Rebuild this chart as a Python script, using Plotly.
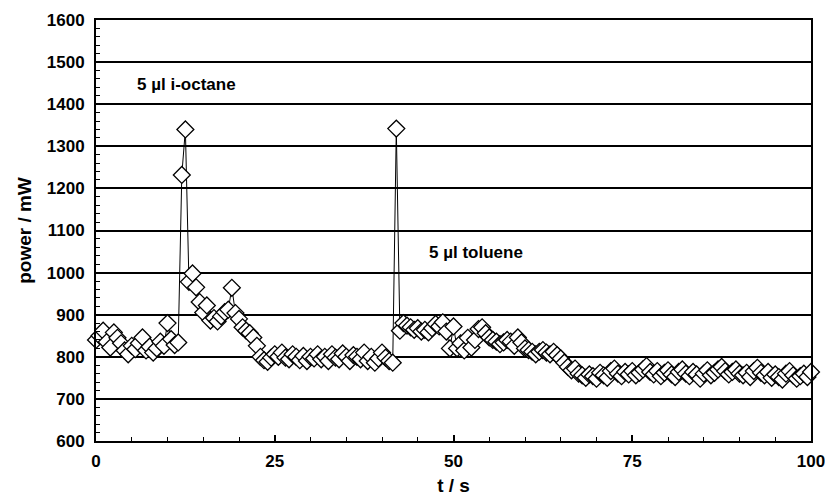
import plotly.graph_objects as go

# sample times (s)
time_s = [
    0, 0.5, 1, 1.5, 2, 2.5, 3, 3.5, 4, 4.5, 5, 5.5, 6, 6.5, 7, 7.5, 8, 8.5, 9, 9.5,
    10, 10.5, 11, 11.5, 12, 12.5, 13, 13.5, 14, 14.5, 15, 15.5, 16, 16.5, 17, 17.5, 18, 18.5, 19, 19.5,
    20, 20.5, 21, 21.5, 22, 22.5, 23, 23.5, 24, 24.5, 25, 25.5, 26, 26.5, 27, 27.5, 28, 28.5, 29, 29.5,
    30, 30.5, 31, 31.5, 32, 32.5, 33, 33.5, 34, 34.5, 35, 35.5, 36, 36.5, 37, 37.5, 38, 38.5, 39, 39.5,
    40, 40.5, 41, 41.5, 42, 42.5, 43, 43.5, 44, 44.5, 45, 45.5, 46, 46.5, 47, 47.5, 48, 48.5, 49, 49.5,
    50, 50.5, 51, 51.5, 52, 52.5, 53, 53.5, 54, 54.5, 55, 55.5, 56, 56.5, 57, 57.5, 58, 58.5, 59, 59.5,
    60, 60.5, 61, 61.5, 62, 62.5, 63, 63.5, 64, 64.5, 65, 65.5, 66, 66.5, 67, 67.5, 68, 68.5, 69, 69.5,
    70, 70.5, 71, 71.5, 72, 72.5, 73, 73.5, 74, 74.5, 75, 75.5, 76, 76.5, 77, 77.5, 78, 78.5, 79, 79.5,
    80, 80.5, 81, 81.5, 82, 82.5, 83, 83.5, 84, 84.5, 85, 85.5, 86, 86.5, 87, 87.5, 88, 88.5, 89, 89.5,
    90, 90.5, 91, 91.5, 92, 92.5, 93, 93.5, 94, 94.5, 95, 95.5, 96, 96.5, 97, 97.5, 98, 98.5, 99, 99.5,
    100,
]

# power (mW)
power_mw = [
    # 0 - 11.5
    840, 850, 862, 835, 822, 858, 845, 832, 815, 806, 826, 818, 832, 846, 815, 824, 810, 820, 836, 826,
    880, 842, 828, 834,
    # 12 - 25  (i-octane injection)
    1232, 1340, 978, 998, 965, 930, 905, 922, 886, 892, 884, 896, 906, 912, 964, 904, 890, 870, 862, 856,
    846, 826, 800, 792, 788, 798, 806,
    # 25.5 - 41.5
    800, 810, 798, 794, 806, 800, 792, 802, 790, 800, 796, 806, 794, 800, 790, 806, 798, 794, 808, 800,
    790, 804, 800, 794, 810, 790, 800, 786, 796, 810, 798, 790, 786,
    # 42 - 65  (toluene injection)
    1342, 862, 880, 874, 870, 864, 868, 860, 864, 858, 868, 878, 872, 882, 860, 820, 872, 820, 832, 815,
    845, 822, 840, 866, 870, 856, 846, 840, 836, 830, 834, 840, 836, 826, 846, 834, 820, 816, 812, 806,
    812, 816, 810, 806, 812, 804, 796,
    # 65.5 - 100
    786, 776, 768, 772, 760, 756, 750, 758, 754, 748, 762, 756, 750, 766, 772, 760, 754, 764, 758, 766,
    756, 762, 770, 778, 764, 758, 766, 754, 762, 768, 758, 752, 764, 770, 760, 754, 764, 758, 748, 760,
    768, 756, 762, 770, 776, 766, 758, 764, 770, 760, 756, 762, 752, 766, 774, 762, 756, 764, 750, 758,
    752, 746, 760, 766, 756, 748, 754, 760, 752, 764,
]

x_tick_vals = [0, 25, 50, 75, 100]
labels = ["5 µl i-octane", "5 µl toluene"]
label_x = [5.5, 46.3]
label_y = [1446, 1047]

assert len(time_s) == len(power_mw)

FONT = "Liberation Sans, Arial, sans-serif"

fig = go.Figure()
fig.add_trace(go.Scatter(
    x=time_s, y=power_mw, mode="lines+markers",
    line=dict(color="black", width=1),
    marker=dict(symbol="diamond", size=13, color="white",
                line=dict(color="black", width=1.3)),
    cliponaxis=False, showlegend=False,
))

for txt, lx, ly in zip(labels, label_x, label_y):
    fig.add_annotation(x=lx, y=ly, text=txt, showarrow=False,
                       xanchor="left", yanchor="middle",
                       font=dict(family=FONT, size=17, color="black", weight="bold"))

fig.update_layout(
    width=825, height=497,
    margin=dict(l=96, r=14, t=20, b=56),
    paper_bgcolor="white", plot_bgcolor="white",
    font=dict(family=FONT, color="black"),
)
fig.update_xaxes(
    range=[0, 100], tickvals=x_tick_vals, automargin=False,
    ticklabeloverflow="allow",
    ticks="inside", ticklen=6, tickwidth=1.5, tickcolor="black",
    minor=dict(dtick=5, ticks="inside", ticklen=4, tickwidth=1, tickcolor="black", showgrid=False),
    showline=True, linewidth=2, linecolor="black", mirror=True,
    showgrid=False, zeroline=False,
    tickfont=dict(family=FONT, size=17, color="black", weight="bold"),
    ticklabelstandoff=4,
    title=dict(text="t / s", font=dict(family=FONT, size=19, color="black", weight="bold"), standoff=8),
)
fig.update_yaxes(
    range=[600, 1600], dtick=100, automargin=False,
    ticks="inside", ticklen=6, tickwidth=1.5, tickcolor="black",
    minor=dict(dtick=20, ticks="inside", ticklen=4, tickwidth=1, tickcolor="black", showgrid=False),
    showline=True, linewidth=2, linecolor="black", mirror=True,
    showgrid=True, gridcolor="black", gridwidth=1.5, zeroline=False,
    tickfont=dict(family=FONT, size=17, color="black", weight="bold"),
    ticklabelstandoff=6,
    title=dict(text="power / mW", font=dict(family=FONT, size=19, color="black", weight="bold"), standoff=10),
)

# remove the default page margin so the 825x497 figure fills the window exactly
fig.write_html(
    "out.html",
    config={"displayModeBar": False},
    post_script="document.body.style.margin='0';document.body.style.overflow='hidden';",
)
